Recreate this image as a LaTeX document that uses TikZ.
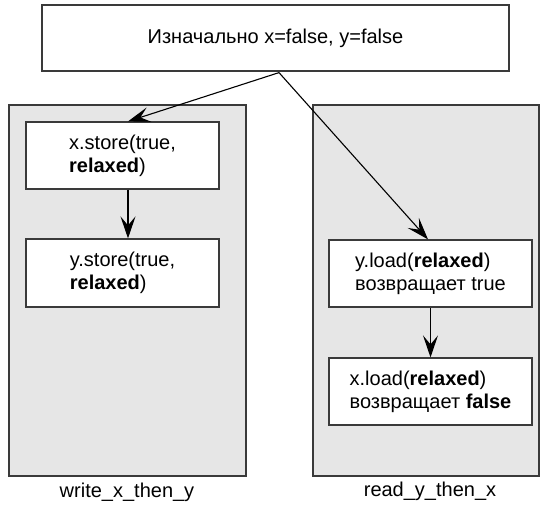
\documentclass[tikz,border=0pt]{standalone}
\usepackage{fontspec}
\setmainfont{Liberation Sans}
\usetikzlibrary{arrows.meta,calc}
\definecolor{panelgray}{HTML}{E6E6E6}
\definecolor{edgegray}{HTML}{3A3A3A}
\begin{document}
\begin{tikzpicture}[x=1pt,y=1pt,
  every node/.style={font=\fontsize{20}{23}\selectfont},
  panel/.style={draw=edgegray,line width=1.3pt,fill=panelgray},
  opbox/.style={draw=edgegray,line width=1.2pt,fill=white,align=left,
    inner sep=0pt,minimum height=67pt},
  flow/.style={line width=1.1pt,-{Stealth[length=22pt,width=15pt,inset=9pt]}}]
\useasboundingbox (0,0) rectangle (540,-507);

% thread panels
\draw[panel] (9,-105) rectangle (246,-476);
\draw[panel] (313,-105) rectangle (539,-476);

% initial state
\node[opbox,align=center,minimum width=467pt,minimum height=66pt] (init) at (275.5,-38)
  {Изначально x=false, y=false};

% writer thread
\node[opbox,minimum width=193pt] (xs) at (122.5,-155.5)
  {x.store(true,\\\textbf{relaxed})};
\node[opbox,minimum width=193pt,minimum height=68pt] (ys) at (122.5,-273)
  {y.store(true,\\\textbf{relaxed})};

% reader thread
\node[opbox,minimum width=203pt] (yl) at (430.5,-273.5)
  {y.load(\textbf{relaxed})\\возвращает true};
\node[opbox,minimum width=203pt] (xl) at (430.5,-391.5)
  {x.load(\textbf{relaxed})\\возвращает \textbf{false}};

% thread names
\node (wname) at (127,-492) {write\_x\_then\_y};
\node (rname) at (430,-491) {read\_y\_then\_x};

% ordering arrows
\coordinate (fork) at ($(init.south)+(3.5,-1)$);
\draw[flow] (fork) -- ([xshift=5.5pt]xs.north);
\draw[flow] (fork) -- ([xshift=-2.5pt]yl.north);
\draw[flow] ([xshift=5.5pt]xs.south) -- ([xshift=5.5pt]ys.north);
\draw[flow] (yl.south) -- (xl.north);
\end{tikzpicture}
\end{document}
